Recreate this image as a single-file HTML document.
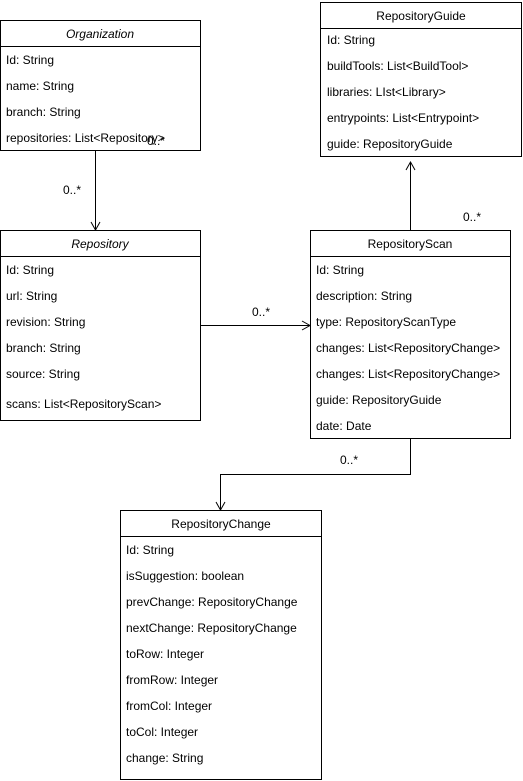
<!DOCTYPE html>
<html><head><meta charset="utf-8"><style>
html,body{margin:0;padding:0;background:#fff}
svg{display:block}
text{font-family:"Liberation Sans",Arial,sans-serif;font-size:12px;fill:#000}
</style></head><body>
<svg width="523" height="781" viewBox="0 0 523 781" xmlns="http://www.w3.org/2000/svg">
<g fill="#fff" stroke="#000" stroke-width="1">
<rect x="0.5" y="20.5" width="200" height="130"/><line x1="0.5" y1="46.5" x2="200.5" y2="46.5"/>
<rect x="0.5" y="230.5" width="200" height="190"/><line x1="0.5" y1="256.5" x2="200.5" y2="256.5"/>
<rect x="320.5" y="2.5" width="201" height="154"/><line x1="320.5" y1="28.5" x2="521.5" y2="28.5"/>
<rect x="310.5" y="230.5" width="200" height="208"/><line x1="310.5" y1="256.5" x2="510.5" y2="256.5"/>
<rect x="120.5" y="510.5" width="201" height="269"/><line x1="120.5" y1="536.5" x2="321.5" y2="536.5"/>
</g>
<g fill="none" stroke="#000" stroke-width="1">
<path d="M95.5 150 V229"/><path d="M91 222 L95.5 230 L100 222"/>
<path d="M200 325.5 H309"/><path d="M302 321 L310 325.5 L302 330"/>
<path d="M410.5 230 V163"/><path d="M406 170 L410.5 162 L415 170"/>
<path d="M410.5 438 V474.5 H220.5 V509"/><path d="M216 502 L220.5 510 L225 502"/>
</g>
<text x="100" y="38" text-anchor="middle" font-style="italic">Organization</text>
<text x="6" y="64">Id: String</text>
<text x="6" y="90">name: String</text>
<text x="6" y="116">branch: String</text>
<text x="6" y="142">repositories: List&lt;Repository&gt;</text>
<text x="147" y="145">0..*</text>
<text x="63" y="194">0..*</text>

<text x="100" y="248" text-anchor="middle" font-style="italic">Repository</text>
<text x="6" y="274">Id: String</text>
<text x="6" y="300">url: String</text>
<text x="6" y="326">revision: String</text>
<text x="6" y="352">branch: String</text>
<text x="6" y="378">source: String</text>
<text x="6" y="408">scans: List&lt;RepositoryScan&gt;</text>
<text x="252" y="316">0..*</text>

<text x="421" y="20" text-anchor="middle">RepositoryGuide</text>
<text x="327" y="44">Id: String</text>
<text x="327" y="70">buildTools: List&lt;BuildTool&gt;</text>
<text x="327" y="96">libraries: LIst&lt;Library&gt;</text>
<text x="327" y="122">entrypoints: List&lt;Entrypoint&gt;</text>
<text x="327" y="148">guide: RepositoryGuide</text>
<text x="463" y="221">0..*</text>

<text x="410" y="248" text-anchor="middle">RepositoryScan</text>
<text x="316" y="274">Id: String</text>
<text x="316" y="300">description: String</text>
<text x="316" y="326">type: RepositoryScanType</text>
<text x="316" y="352">changes: List&lt;RepositoryChange&gt;</text>
<text x="316" y="378">changes: List&lt;RepositoryChange&gt;</text>
<text x="316" y="404">guide: RepositoryGuide</text>
<text x="316" y="430">date: Date</text>
<text x="340" y="464">0..*</text>

<text x="221" y="528" text-anchor="middle">RepositoryChange</text>
<text x="126" y="554">Id: String</text>
<text x="126" y="580">isSuggestion: boolean</text>
<text x="126" y="606">prevChange: RepositoryChange</text>
<text x="126" y="632">nextChange: RepositoryChange</text>
<text x="126" y="658">toRow: Integer</text>
<text x="126" y="684">fromRow: Integer</text>
<text x="126" y="710">fromCol: Integer</text>
<text x="126" y="736">toCol: Integer</text>
<text x="126" y="762">change: String</text>
</svg>
</body></html>
